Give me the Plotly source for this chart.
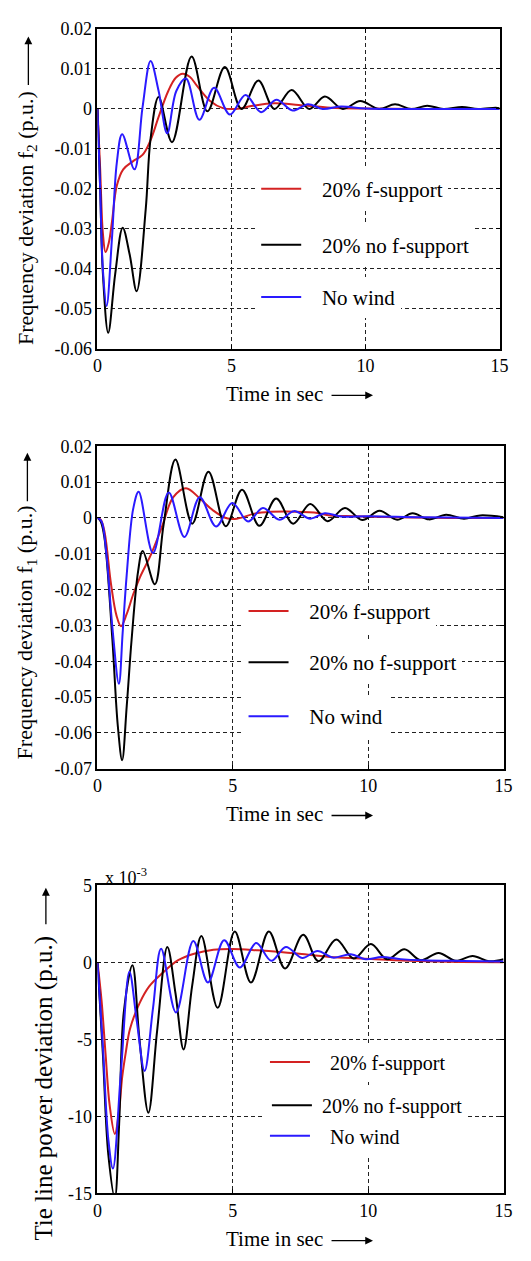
import plotly.graph_objects as go

W, H = 531, 1261


def fx(p):
    return p / W


def fy(p):
    return 1 - p / H


FONT = "Liberation Serif"
RED = "#d42222"
BLACK = "#000000"
BLUE = "#2a1aff"
NB = "\u00a0"

names = ["20% f-support", "20% no f-support", "No wind"]

# ---------------- Panel 1: frequency deviation f2 (p.u.) ----------------
t1_red = [0, 0.1, 0.2, 0.3, 0.42, 0.54, 0.72, 0.96, 1.32, 1.68, 1.98, 2.28, 2.64, 2.92, 3.18,
          3.45, 3.72, 4.2, 4.68, 5.16, 5.8, 6.6, 7.5, 8.7, 10, 12, 15]
f2_red = [0, -0.015, -0.031, -0.0358, -0.0335, -0.0282, -0.0192, -0.0151, -0.0131, -0.0115,
          -0.0078, -0.002, 0.0045, 0.0078, 0.0088, 0.0080, 0.0057, 0.0020, 0.0002, 0.0,
          0.0008, 0.0014, 0.0010, 0.0003, 0.0001, 0.0, 0.0]

t1_black = [0, 0.1, 0.2, 0.4, 0.66, 0.94, 1.2, 1.46, 1.8, 1.98, 2.28, 2.78, 3.51, 4.1, 4.75,
            5.37, 6.0, 6.6, 7.24, 7.9, 8.48, 9.15, 9.8, 10.5, 11.1, 11.7, 12.3, 12.9, 13.6,
            14.2, 14.85, 15]
f2_black = [0, -0.020, -0.041, -0.056, -0.0413, -0.0297, -0.0364, -0.0456, -0.025, -0.0074,
            0.0030, -0.0083, 0.0131, -0.0006, 0.0105, 0.0, 0.0071, 0.0, 0.00475, 0.0, 0.0031,
            0.0, 0.0020, 0.0, 0.0012, 0.0, 0.0008, 0.0, 0.0005, 0.0, 0.0003, 0.0002]

t1_blue = [0, 0.1, 0.2, 0.34, 0.54, 0.72, 0.92, 1.38, 1.68, 1.98, 2.28, 2.6, 2.94, 3.3, 3.8,
           4.35, 4.94, 5.52, 6.1, 6.67, 7.28, 7.85, 8.4, 9.09, 10, 12, 15]
f2_blue = [0, -0.020, -0.040, -0.0493, -0.0323, -0.0135, -0.0063, -0.0151, 0.0004, 0.0120,
           0.0045, -0.0061, 0.0045, 0.0076, -0.0027, 0.0053, -0.0014, 0.0035, -0.0008, 0.0023,
           -0.0004, 0.0012, 0.0, 0.0006, 0.0001, 0.0, 0.0]

# ---------------- Panel 2: frequency deviation f1 (p.u.) ----------------
t2_red = [0, 0.12, 0.26, 0.5, 0.7, 0.87, 1.08, 1.32, 1.56, 1.97, 2.38, 2.8, 3.27, 3.8, 4.27,
          4.74, 5.15, 5.8, 6.4, 7.0, 8.0, 8.6, 9.5, 11, 13, 15]
f1_red = [0, -0.0005, -0.0039, -0.0185, -0.0272, -0.0302, -0.0268, -0.0213, -0.0167, -0.0103,
          -0.0025, 0.0058, 0.0083, 0.0053, 0.0021, 0.0, -0.0002, 0.0012, 0.0017, 0.0018,
          0.0015, 0.0007, 0.0005, 0.0002, 0.0, 0.0]

t2_black = [0, 0.12, 0.26, 0.55, 0.75, 0.91, 1.08, 1.26, 1.5, 1.67, 2.12, 2.44, 2.88, 3.5, 4.1,
            4.74, 5.34, 5.98, 6.6, 7.23, 7.86, 8.5, 9.14, 9.78, 10.42, 11.07, 11.64, 12.24,
            12.88, 13.54, 14.14, 15]
f1_black = [0, -0.001, -0.0057, -0.034, -0.058, -0.0676, -0.0525, -0.034, -0.0149, -0.0092,
            -0.0185, -0.002, 0.0163, -0.0016, 0.0129, -0.0023, 0.0079, -0.0022, 0.0054,
            -0.0016, 0.0039, -0.0009, 0.0028, -0.0006, 0.0020, -0.0005, 0.0013, -0.0004,
            0.0009, -0.0002, 0.0007, 0.0002]

t2_blue = [0, 0.15, 0.32, 0.55, 0.79, 0.93, 1.08, 1.32, 1.52, 2.05, 2.63, 3.21, 3.78, 4.38,
           4.98, 5.56, 6.11, 6.72, 7.26, 7.86, 8.4, 9.0, 10, 12, 15]
f1_blue = [0, -0.001, -0.0094, -0.0305, -0.0463, -0.032, -0.0158, 0.0026, 0.0073, -0.0098,
           0.0071, -0.0053, 0.0058, -0.0024, 0.0042, -0.0010, 0.0028, -0.0005, 0.0019, -0.0002,
           0.0013, 0.0004, 0.0005, 0.0002, 0.0]

# ---------------- Panel 3: tie line power deviation (x 10^-3 p.u.) ----------------
t3_red = [0, 0.15, 0.3, 0.45, 0.64, 0.8, 0.91, 1.05, 1.2, 1.56, 1.91, 2.39, 2.98, 3.57, 4.28,
          4.99, 5.93, 6.76, 7.38, 8.58, 9.78, 10.98, 12.18, 13.4, 15]
ptie_red = [0, -2.5, -6.0, -9.3, -11.15, -9.6, -7.5, -5.8, -4.34, -2.64, -1.57, -0.72, 0.13,
            0.55, 0.81, 0.86, 0.77, 0.66, 0.56, 0.34, 0.24, 0.13, 0.06, 0.02, 0.0]

t3_black = [0, 0.2, 0.4, 0.64, 0.8, 0.97, 1.29, 1.55, 1.88, 2.2, 2.58, 2.88, 3.18, 3.5, 3.84,
            4.44, 5.07, 5.67, 6.33, 6.93, 7.6, 8.16, 8.82, 9.46, 10.1, 10.7, 11.34, 11.94,
            12.6, 13.24, 13.86, 14.46, 15]
ptie_black = [0, -6.0, -12.5, -15.3, -10.5, -3.28, -0.19, -5.0, -9.77, -4.5, 0.98, -2.0, -5.66,
              -1.5, 1.70, -2.96, 2.0, -1.32, 2.0, -0.41, 1.78, 0.06, 1.48, 0.24, 1.18, 0.19,
              0.84, 0.13, 0.6, 0.09, 0.41, 0.06, 0.19]

t3_blue = [0, 0.2, 0.4, 0.57, 0.87, 1.18, 1.45, 1.74, 2.05, 2.35, 2.9, 3.54, 4.08, 4.68, 5.26,
           5.86, 6.42, 6.96, 7.56, 8.13, 8.7, 9.36, 9.9, 10.5, 11.2, 12, 13.5, 15]
ptie_blue = [0, -5.5, -11.5, -13.4, -7.0, -0.62, -3.8, -7.06, -3.0, 0.87, -3.26, 1.37, -1.31,
             1.42, -0.34, 1.24, 0.09, 0.99, 0.28, 0.73, 0.3, 0.52, 0.19, 0.34, 0.2, 0.12, 0.08,
             0.05]

# ---------------- ticks ----------------
x_ticks = [0, 5, 10, 15]
x_ticktext = ["0", "5", "10", "15"]
y1_ticks = [0.02, 0.01, 0, -0.01, -0.02, -0.03, -0.04, -0.05, -0.06]
y1_ticktext = ["0.02", "0.01", "0", "-0.01", "-0.02", "-0.03", "-0.04", "-0.05", "-0.06"]
y2_ticks = [0.02, 0.01, 0, -0.01, -0.02, -0.03, -0.04, -0.05, -0.06, -0.07]
y2_ticktext = ["0.02", "0.01", "0", "-0.01", "-0.02", "-0.03", "-0.04", "-0.05", "-0.06", "-0.07"]
y3_ticks = [5, 0, -5, -10, -15]
y3_ticktext = ["5", "0", "-5", "-10", "-15"]

panels = [
    dict(ax="", data=[(t1_red, f2_red), (t1_black, f2_black), (t1_blue, f2_blue)]),
    dict(ax="2", data=[(t2_red, f1_red), (t2_black, f1_black), (t2_blue, f1_blue)]),
    dict(ax="3", data=[(t3_red, ptie_red), (t3_black, ptie_black), (t3_blue, ptie_blue)]),
]
colors = [RED, BLACK, BLUE]
# leading no-break spaces push the legend text away from its line sample
pads = [[3, 3, 3], [3, 3, 3], [3, 1, 3]]

fig = go.Figure()
li = 0
for pi, p in enumerate(panels):
    for k, (tt, vv) in enumerate(p["data"]):
        li += 1
        fig.add_trace(go.Scatter(
            x=tt, y=vv, mode="lines", name=NB * pads[pi][k] + names[k],
            line=dict(color=colors[k], width=2, shape="spline", smoothing=1.0),
            xaxis="x" + p["ax"], yaxis="y" + p["ax"], showlegend=True,
            legend="legend" if li == 1 else "legend%d" % li,
        ))

axis_common = dict(
    showline=True, linecolor="black", linewidth=1.6, mirror="allticks",
    ticks="inside", ticklen=4, tickcolor="black", tickwidth=1,
    showgrid=True, gridcolor="#222222", gridwidth=1, griddash="4px,3px",
    zeroline=False,
    tickfont=dict(family=FONT, size=18, color="black"),
)

x_dom1 = [fx(95), fx(508)]
x_dom23 = [fx(95), fx(512)]

fig.update_layout(
    width=W, height=H,
    margin=dict(l=0, r=0, t=0, b=0),
    showlegend=True,
    font=dict(family=FONT, color="black", size=18),
    paper_bgcolor="white", plot_bgcolor="white",
    xaxis=dict(domain=x_dom1, range=[0, 15], tickvals=x_ticks, ticktext=x_ticktext,
               anchor="y", **axis_common),
    yaxis=dict(domain=[fy(344.3), fy(19.3)], range=[-0.06, 0.02], tickvals=y1_ticks,
               ticktext=y1_ticktext, anchor="x", **axis_common),
    xaxis2=dict(domain=x_dom23, range=[0, 15], tickvals=x_ticks, ticktext=x_ticktext,
                anchor="y2", **axis_common),
    yaxis2=dict(domain=[fy(771), fy(443.3)], range=[-0.07, 0.02], tickvals=y2_ticks,
                ticktext=y2_ticktext, anchor="x2", **axis_common),
    xaxis3=dict(domain=x_dom23, range=[0, 15], tickvals=x_ticks, ticktext=x_ticktext,
                anchor="y3", **axis_common),
    yaxis3=dict(domain=[fy(1202.3), fy(889.3)], range=[-15, 5], tickvals=y3_ticks,
                ticktext=y3_ticktext, anchor="x3", **axis_common),
)

# legends: one per entry, positioned like the original
legend_pos = [
    (258, 182), (258, 239), (258, 292),
    (245, 611), (245, 663), (245, 718),
    (267, 1069), (269, 1113), (267, 1144),
]
leg_font = [21, 21, 21, 21, 21, 21, 20, 20, 20]
for i, (lx, ly) in enumerate(legend_pos):
    key = "legend" if i == 0 else "legend%d" % (i + 1)
    fig.layout[key] = dict(
        x=fx(lx), y=fy(ly), xanchor="left", yanchor="middle",
        bgcolor="white", borderwidth=0, itemwidth=40,
        font=dict(family=FONT, size=leg_font[i], color="black"),
    )

ann = []
# x-axis titles with arrows
for ty, fs in [(390, 21), (817, 21), (1249, 21)]:
    ann.append(dict(text="Time in sec", x=fx(276.5), y=fy(ty), xref="paper", yref="paper",
                    showarrow=False, font=dict(family=FONT, size=fs, color="black"),
                    xanchor="center", yanchor="middle"))
    ann.append(dict(text="", x=fx(378), y=fy(ty + 1.5), xref="paper", yref="paper",
                    showarrow=True, ax=-43, ay=0, arrowhead=2, arrowsize=1.2,
                    arrowwidth=1.3, arrowcolor="black", standoff=0, startstandoff=0))
# y-axis titles with arrows
ytitles = [
    ("Frequency deviation f<sub>2</sub> (p.u.)", 22, 211, 22, (24, 27, 50)),
    ("Frequency deviation f<sub>1</sub> (p.u.)", 22, 632, 22, (23, 450, 50)),
    ("Tie line power deviation (p.u.)", 40, 1095, 25, (42, 892, 38)),
]
for txt, tx, ty, fs, (axx, ayy, alen) in ytitles:
    ann.append(dict(text=txt, x=fx(tx), y=fy(ty), xref="paper", yref="paper",
                    showarrow=False, textangle=-90,
                    font=dict(family=FONT, size=fs, color="black"),
                    xanchor="center", yanchor="middle"))
    ann.append(dict(text="", x=fx(axx), y=fy(ayy), xref="paper", yref="paper",
                    showarrow=True, ax=0, ay=alen, arrowhead=2, arrowsize=1.2,
                    arrowwidth=1.3, arrowcolor="black", standoff=0, startstandoff=0))
# exponent label on panel 3
ann.append(dict(text="x 10<sup>-3</sup>", x=fx(101), y=fy(880), xref="paper", yref="paper",
                showarrow=False, font=dict(family=FONT, size=18, color="black"),
                xanchor="left", yanchor="middle"))

fig.update_layout(annotations=ann)
fig.write_html("out.html")
